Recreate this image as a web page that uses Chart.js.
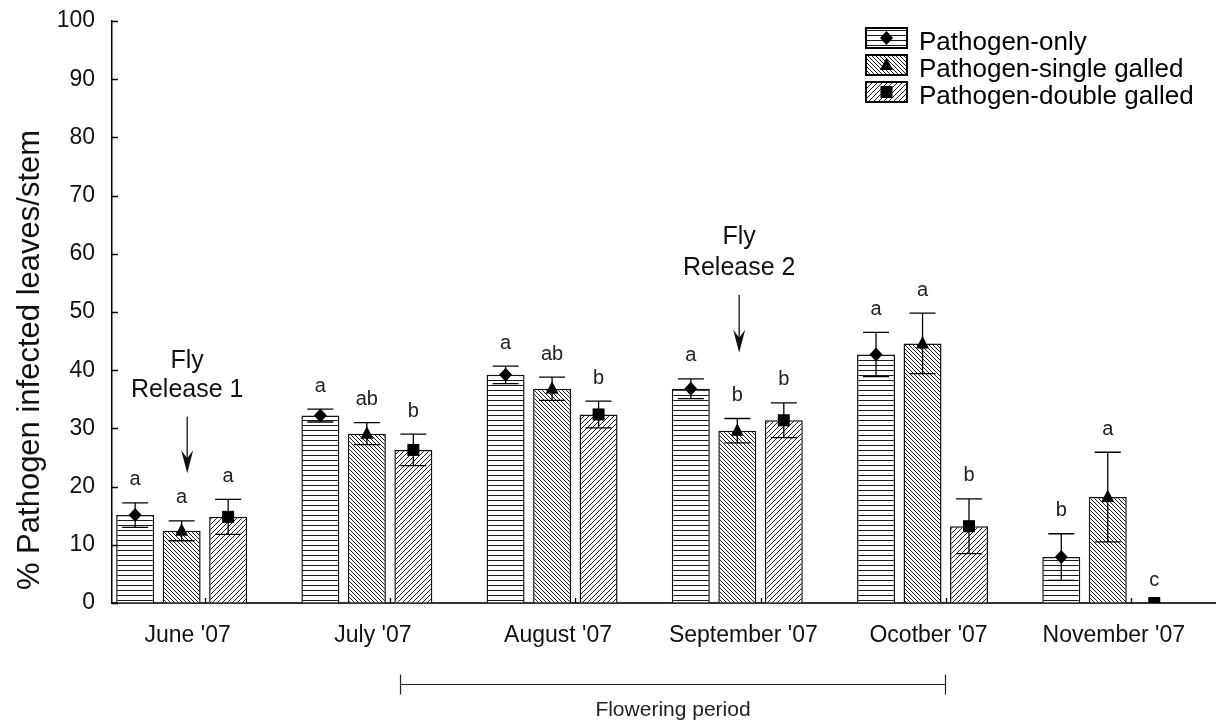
<!DOCTYPE html>
<html>
<head>
<meta charset="utf-8">
<script src="https://cdn.jsdelivr.net/npm/chart.js@4.4.1/dist/chart.umd.min.js"></script>
<style>
  html, body { margin: 0; padding: 0; background: #fff; }
  #wrap { width: 1223px; height: 722px; }
</style>
</head>
<body>
<div id="wrap"><canvas id="c" width="1223" height="722"></canvas></div>
<script>
// Sampling months and y-axis ticks
const months = ["June '07", "July '07", "August '07", "September '07", "Ocotber '07", "November '07"];
const yTicks = [0, 10, 20, 30, 40, 50, 60, 70, 80, 90, 100];
const yTitle = '% Pathogen infected leaves/stem';

// Mean % of pathogen-infected leaves per stem, with standard errors
const pathogenOnly      = [15.1, 32.2, 39.2, 36.8, 42.7, 7.9];
const pathogenOnlyErr   = [2.1, 1.1, 1.5, 1.7, 3.8, 4.0];
const singleGalled      = [12.4, 29.1, 36.8, 29.6, 44.6, 18.2];
const singleGalledErr   = [1.7, 1.9, 2.0, 2.1, 5.2, 7.7];
const doubleGalled      = [14.8, 26.3, 32.4, 31.4, 13.2, 0];
const doubleGalledErr   = [3.0, 2.7, 2.3, 3.0, 4.7, 0];

// Significance letters (within each month)
const onlyLetters   = ['a', 'a', 'a', 'a', 'a', 'b'];
const singleLetters = ['a', 'ab', 'ab', 'b', 'a', 'a'];
const doubleLetters = ['a', 'b', 'b', 'b', 'b', 'c'];

const seriesNames = ['Pathogen-only', 'Pathogen-single galled', 'Pathogen-double galled'];

// Fly releases (x in month index units, heights in % units)
const releases = [
  { lines: ['Fly', 'Release 1'], x: 0.03, textY: [41.5, 36.6], arrowTop: 32, arrowTip: 22.3 },
  { lines: ['Fly', 'Release 2'], x: 3.01, textY: [62.9, 57.6], arrowTop: 52.9, arrowTip: 43 }
];
// Flowering period span in month index units
const flowering = { from: 1.18, to: 4.12, label: 'Flowering period' };

const FONT = '"Liberation Sans", Arial, Helvetica, sans-serif';
const INK = '#111';

const canvas = document.getElementById('c');
const mainCtx = canvas.getContext('2d');

function makePattern(kind) {
  const tile = document.createElement('canvas');
  const t = tile.getContext('2d');
  if (kind === 'horizontal') {
    tile.width = 8; tile.height = 5;
    t.fillStyle = '#fff'; t.fillRect(0, 0, 8, 5);
    t.fillStyle = '#1a1a1a'; t.fillRect(0, 0, 8, 1);
  } else {
    const d = kind === 'back' ? 4 : 5;
    const T = d * 3;
    tile.width = T; tile.height = T;
    t.fillStyle = '#fff'; t.fillRect(0, 0, T, T);
    t.strokeStyle = '#1a1a1a'; t.lineWidth = 1;
    t.beginPath();
    for (let k = -2 * T; k <= 3 * T; k += d) {
      if (kind === 'back') { t.moveTo(k, 0); t.lineTo(k + T, T); }
      else { t.moveTo(k, 0); t.lineTo(k - T, T); }
    }
    t.stroke();
  }
  return mainCtx.createPattern(tile, 'repeat');
}

const series = [
  { name: seriesNames[0], values: pathogenOnly, errors: pathogenOnlyErr, letters: onlyLetters, marker: 'diamond', fill: makePattern('horizontal') },
  { name: seriesNames[1], values: singleGalled, errors: singleGalledErr, letters: singleLetters, marker: 'triangle', fill: makePattern('back') },
  { name: seriesNames[2], values: doubleGalled, errors: doubleGalledErr, letters: doubleLetters, marker: 'square', fill: makePattern('forward') }
];

function drawMarker(ctx, kind, x, y) {
  ctx.fillStyle = '#000';
  ctx.beginPath();
  if (kind === 'diamond') {
    ctx.moveTo(x, y - 7); ctx.lineTo(x + 6.5, y); ctx.lineTo(x, y + 7); ctx.lineTo(x - 6.5, y);
  } else if (kind === 'triangle') {
    ctx.moveTo(x, y - 7.5); ctx.lineTo(x + 6.5, y + 5); ctx.lineTo(x - 6.5, y + 5);
  } else {
    ctx.rect(x - 6, y - 6, 12, 12);
  }
  ctx.closePath();
  ctx.fill();
}

const decorations = {
  id: 'decorations',
  afterDatasetsDraw(chart) {
    const ctx = chart.ctx;
    const xs = chart.scales.x, ys = chart.scales.y;
    const area = chart.chartArea;
    ctx.save();

    // y-axis title, rotated
    ctx.save();
    ctx.translate(30, (area.top + area.bottom) / 2 + 48);
    ctx.rotate(-Math.PI / 2);
    ctx.fillStyle = INK;
    ctx.font = '31px ' + FONT;
    ctx.textAlign = 'center'; ctx.textBaseline = 'middle';
    ctx.fillText(yTitle, 0, 0);
    ctx.restore();

    // inward ticks on the y axis
    ctx.strokeStyle = '#000'; ctx.lineWidth = 1.3;
    ctx.beginPath();
    yTicks.forEach(v => {
      const y = Math.round(ys.getPixelForValue(v)) + 0.5;
      ctx.moveTo(area.left, y); ctx.lineTo(area.left + 6, y);
    });
    ctx.stroke();

    // small ticks between the 2nd and 3rd bar of each month
    const m1 = chart.getDatasetMeta(1), m2 = chart.getDatasetMeta(2);
    ctx.beginPath();
    months.forEach((_, i) => {
      const x = Math.round((m1.data[i].x + m2.data[i].x) / 2) + 0.5;
      ctx.moveTo(x, area.bottom); ctx.lineTo(x, area.bottom - 5);
    });
    ctx.stroke();

    // error bars, markers, letters
    series.forEach((s, di) => {
      const meta = chart.getDatasetMeta(di);
      s.values.forEach((v, i) => {
        const bar = meta.data[i];
        const x = bar.x;
        const yMean = ys.getPixelForValue(v);
        const yHi = ys.getPixelForValue(v + s.errors[i]);
        const yLo = ys.getPixelForValue(v - s.errors[i]);
        if (s.errors[i] > 0) {
          ctx.strokeStyle = '#000'; ctx.lineWidth = 1.3;
          ctx.beginPath();
          ctx.moveTo(x, yLo); ctx.lineTo(x, yHi);
          ctx.moveTo(x - 13, yHi); ctx.lineTo(x + 13, yHi);
          ctx.moveTo(x - 13, yLo); ctx.lineTo(x + 13, yLo);
          ctx.stroke();
        }
        ctx.save();
        ctx.beginPath();
        ctx.rect(area.left, area.top, area.right - area.left, area.bottom - area.top);
        ctx.clip();
        drawMarker(ctx, s.marker, x, yMean);
        ctx.restore();

        ctx.fillStyle = '#222';
        ctx.font = '20px ' + FONT;
        ctx.textAlign = 'center'; ctx.textBaseline = 'middle';
        ctx.fillText(s.letters[i], x, yHi - 23);
      });
    });

    // fly release annotations
    releases.forEach(r => {
      const x = xs.getPixelForValue(r.x);
      ctx.fillStyle = '#111';
      ctx.font = '25px ' + FONT;
      ctx.textAlign = 'center'; ctx.textBaseline = 'middle';
      r.lines.forEach((t, k) => ctx.fillText(t, x, ys.getPixelForValue(r.textY[k])));
      const top = ys.getPixelForValue(r.arrowTop);
      const tip = ys.getPixelForValue(r.arrowTip);
      ctx.strokeStyle = '#111'; ctx.lineWidth = 1.3;
      ctx.beginPath(); ctx.moveTo(x, top); ctx.lineTo(x, tip - 10); ctx.stroke();
      ctx.fillStyle = '#111';
      ctx.beginPath();
      ctx.moveTo(x, tip);
      ctx.lineTo(x - 6, tip - 23);
      ctx.lineTo(x, tip - 15);
      ctx.lineTo(x + 6, tip - 23);
      ctx.closePath();
      ctx.fill();
    });

    // flowering period bracket under the axis
    const fx0 = Math.round(xs.getPixelForValue(flowering.from)) + 0.5;
    const fx1 = Math.round(xs.getPixelForValue(flowering.to)) + 0.5;
    const fy = area.bottom + 81.5;
    ctx.strokeStyle = '#222'; ctx.lineWidth = 1.2;
    ctx.beginPath();
    ctx.moveTo(fx0, fy); ctx.lineTo(fx1, fy);
    ctx.moveTo(fx0, fy - 10); ctx.lineTo(fx0, fy + 10);
    ctx.moveTo(fx1, fy - 10); ctx.lineTo(fx1, fy + 10);
    ctx.stroke();
    ctx.fillStyle = '#222';
    ctx.font = '21px ' + FONT;
    ctx.textAlign = 'center'; ctx.textBaseline = 'middle';
    ctx.fillText(flowering.label, (fx0 + fx1) / 2, fy + 26);

    // legend in the upper right corner of the plot
    const lx = area.right - 349;
    series.forEach((s, k) => {
      const by = area.top + 7 + k * 27;
      ctx.fillStyle = s.fill;
      ctx.fillRect(lx, by, 41, 20);
      ctx.strokeStyle = '#000'; ctx.lineWidth = 2;
      ctx.strokeRect(lx, by, 41, 20);
      drawMarker(ctx, s.marker, lx + 20.5, by + 10);
      ctx.fillStyle = '#000';
      ctx.font = '26px ' + FONT;
      ctx.textAlign = 'left'; ctx.textBaseline = 'middle';
      ctx.fillText(s.name, lx + 53, by + 15);
    });

    ctx.restore();
  }
};

new Chart(canvas, {
  type: 'bar',
  data: {
    datasets: series.map(s => ({
      label: s.name,
      data: s.values.map((v, i) => ({ x: i, y: v })),
      backgroundColor: s.fill,
      borderColor: '#111',
      borderWidth: 1.5,
      categoryPercentage: 0.753,
      barPercentage: 0.817
    }))
  },
  options: {
    responsive: false,
    animation: false,
    devicePixelRatio: 1,
    layout: { padding: { left: 0, right: 8, top: 21, bottom: 0 } },
    plugins: { legend: { display: false }, tooltip: { enabled: false } },
    scales: {
      x: {
        type: 'linear',
        offset: false,
        min: -0.376,
        max: 5.579,
        afterFit(scale) { scale.height = 119; },
        grid: { display: true, offset: false, drawOnChartArea: false, drawTicks: false },
        border: { display: true, color: '#333', width: 2 },
        ticks: {
          stepSize: 1,
          includeBounds: false,
          padding: 19,
          labelOffset: 6,
          color: INK,
          font: { family: FONT, size: 23 },
          maxRotation: 0,
          autoSkip: false,
          callback: v => months[v] ?? ''
        }
      },
      y: {
        min: 0,
        max: 100,
        afterFit(scale) {
          scale.width = 112;
          scale.paddingTop = 0;
          scale.paddingBottom = 0;
        },
        grid: { display: true, drawOnChartArea: false, drawTicks: false },
        border: { display: true, color: '#000', width: 1.5 },
        ticks: {
          stepSize: 10,
          padding: 17,
          color: INK,
          font: { family: FONT, size: 23 }
        }
      }
    }
  },
  plugins: [decorations]
});
</script>
</body>
</html>
